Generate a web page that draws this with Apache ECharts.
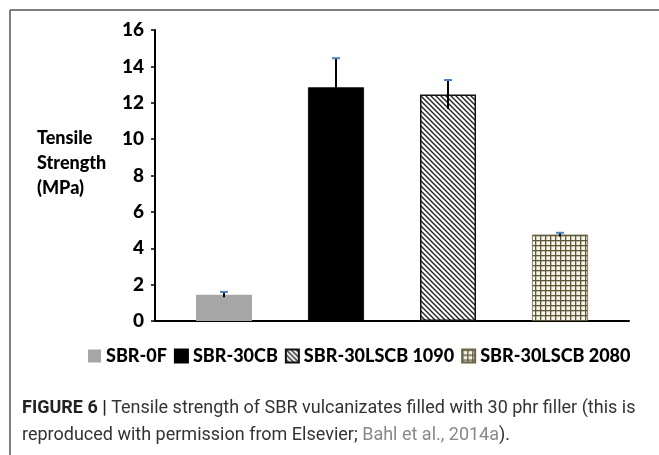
<!DOCTYPE html>
<html><head><meta charset="utf-8">
<script src="https://cdn.jsdelivr.net/npm/echarts@6/dist/echarts.min.js"></script>
<style>html,body{margin:0;padding:0;background:#fff}#c{width:659px;height:455px}</style>
</head><body><div id="c"></div>
<script>
// ---- data ----
var seriesNames = ['SBR-0F', 'SBR-30CB', 'SBR-30LSCB 1090', 'SBR-30LSCB 2080'];
var tensileStrength = [1.45, 12.85, 12.45, 4.75];   // MPa
var errorPlus = [0.15, 1.6, 0.8, 0.1];              // MPa
var yTicks = [0, 2, 4, 6, 8, 10, 12, 14, 16];
var yAxisTitle = ['Tensile', 'Strength', '(MPa)'];
var captionBold = 'FIGURE 6 |';
var captionLine1 = ' Tensile strength of SBR vulcanizates filled with 30 phr filler (this is';
var captionLine2a = 'reproduced with permission from Elsevier; ';
var captionCite = 'Bahl et al., 2014a';
var captionLine2b = ').';

// ---- patterns ----
function hatchPattern() {
  var n = 5, cv = document.createElement('canvas');
  cv.width = n; cv.height = n;
  var g = cv.getContext('2d');
  g.fillStyle = '#fff'; g.fillRect(0, 0, n, n);
  g.strokeStyle = '#222'; g.lineWidth = 1.4;
  g.beginPath();
  g.moveTo(-1, -1); g.lineTo(n + 1, n + 1);
  g.moveTo(-1, n - 1); g.lineTo(1, n + 1);
  g.moveTo(n - 1, -1); g.lineTo(n + 1, 1);
  g.stroke();
  return { image: cv, repeat: 'repeat' };
}
function gridPattern() {
  var n = 5, cv = document.createElement('canvas');
  cv.width = n; cv.height = n;
  var g = cv.getContext('2d');
  g.fillStyle = '#f6f3e8'; g.fillRect(0, 0, n, n);
  g.fillStyle = '#5d5839';
  g.fillRect(0, 0, n, 1.3); g.fillRect(0, 0, 1.3, n);
  return { image: cv, repeat: 'repeat' };
}

var fills = ['#a6a6a6', '#000000', hatchPattern(), gridPattern()];
var borders = [null, '#000', '#111', '#6a6548'];
var BAR_W = 56;
var FONT = 'Lato, "Open Sans", sans-serif';

var series = seriesNames.map(function (name, i) {
  return {
    name: name, type: 'bar', barWidth: BAR_W, barGap: '100%',
    data: [tensileStrength[i]],
    itemStyle: { color: fills[i], borderColor: borders[i] || undefined, borderWidth: borders[i] ? (i === 2 ? 1.5 : 0.8) : 0 }
  };
});

var errData = tensileStrength.map(function (v, i) { return [0, v, errorPlus[i], i]; });
series.push({
  type: 'custom', name: 'err', z: 10, silent: true,
  data: errData,
  renderItem: function (params, api) {
    var v = api.value(1), e = api.value(2), idx = api.value(3);
    var base = api.coord([0, v]);
    var top = api.coord([0, v + e]);
    var bot = api.coord([0, v - e]);
    var x = base[0] + (idx - 1.5) * BAR_W * 2;
    return {
      type: 'group', children: [
        { type: 'line', shape: { x1: x, y1: bot[1], x2: x, y2: top[1] }, style: { stroke: '#000', lineWidth: 2 } },
        { type: 'line', shape: { x1: x - 4, y1: top[1], x2: x + 4, y2: top[1] }, style: { stroke: '#4f81bd', lineWidth: 2 } }
      ]
    };
  }
});

var chart = echarts.init(document.getElementById('c'), null, { renderer: 'canvas' });
chart.setOption({
  animation: false,
  backgroundColor: '#fff',
  grid: { left: 155, right: 30, top: 30, bottom: 134 },
  xAxis: {
    type: 'category', data: [''],
    axisLine: { lineStyle: { color: '#000', width: 2 } },
    axisTick: { show: false }, axisLabel: { show: false }
  },
  yAxis: {
    type: 'value', min: yTicks[0], max: yTicks[yTicks.length - 1], interval: yTicks[1] - yTicks[0],
    axisLine: { show: true, lineStyle: { color: '#000', width: 2 } },
    axisTick: { show: true, length: 4, lineStyle: { color: '#000', width: 1.5 } },
    splitLine: { show: false },
    axisLabel: { margin: 11, color: '#000', fontFamily: FONT, fontWeight: 900, fontSize: 19 }
  },
  legend: {
    data: seriesNames, left: 83, top: 342, itemWidth: 13, itemHeight: 13, itemGap: 7,
    icon: 'rect',
    textStyle: { color: '#000', fontFamily: FONT, fontWeight: 900, fontSize: 18, padding: [0, 0, 0, 0] }
  },
  graphic: [
    { type: 'line', shape: { x1: 10, y1: 10, x2: 659, y2: 10 }, style: { stroke: '#555', lineWidth: 1.5 } },
    { type: 'line', shape: { x1: 10, y1: 10, x2: 10, y2: 455 }, style: { stroke: '#555', lineWidth: 1.5 } },
    {
      type: 'text', left: 37, top: 126,
      style: { text: yAxisTitle.join('\n'), font: '900 18px ' + FONT, fill: '#000', lineHeight: 25 }
    },
    {
      type: 'text', left: 22, top: 399,
      style: {
        text: '{b|' + captionBold + '}{r|' + captionLine1 + '}\n{r|' + captionLine2a + '}{c|' + captionCite + '}{r|' + captionLine2b + '}',
        rich: {
          b: { font: 'bold 18px Roboto, sans-serif', fill: '#222', lineHeight: 27 },
          r: { font: '18px Roboto, sans-serif', fill: '#333', lineHeight: 27 },
          c: { font: '18px Roboto, sans-serif', fill: '#888', lineHeight: 27 }
        }
      }
    }
  ],
  series: series
});
</script></body></html>
